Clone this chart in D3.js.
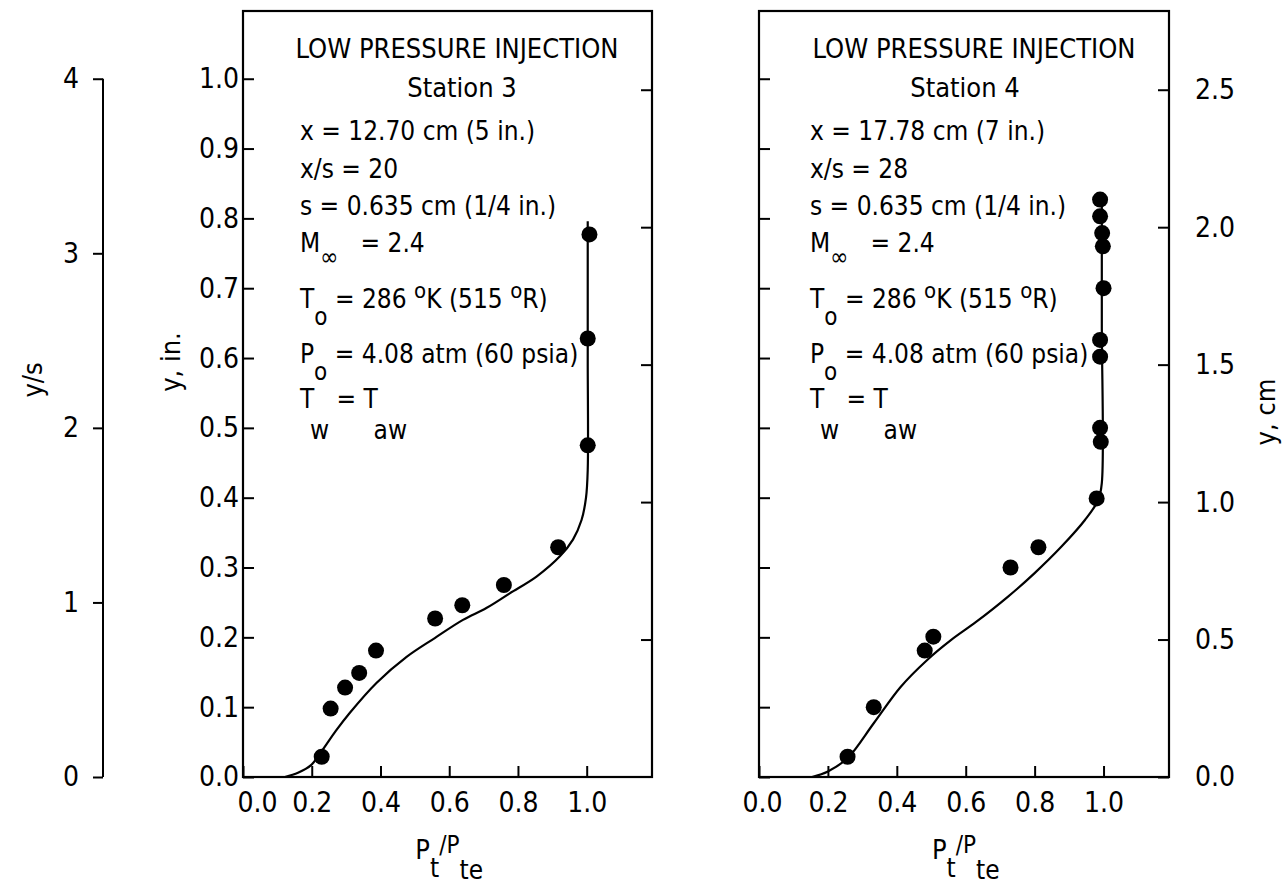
<!DOCTYPE html>
<html><head><meta charset="utf-8">
<script src="https://cdn.jsdelivr.net/npm/d3@7"></script>
<style>
body{margin:0;background:#fff;}
svg{display:block;background:#fff;}
text{font-family:"DejaVu Sans Condensed","Liberation Sans Narrow","DejaVu Sans",sans-serif;fill:#000;}
</style></head><body>
<svg id="c" width="1284" height="887"></svg>
<script>
// ---------- data ----------
const xLabelVals=[0,0.2,0.4,0.6,0.8,1.0];
const yInTickVals=[0,0.1,0.2,0.3,0.4,0.5,0.6,0.7,0.8,0.9,1.0];
const yCmTickVals=[0.5,1.0,1.5,2.0,2.5];
const yCmLabelVals=[0,0.5,1.0,1.5,2.0,2.5];
const ysTickVals=[0,1,2,3,4];

// Station 3 measured points (Pt/Pte, y in.)
const st3PtX=[0.229,0.255,0.297,0.338,0.387,0.559,0.638,0.759,0.917,1.003,1.003,1.008];
const st3PtY=[0.029,0.098,0.128,0.149,0.181,0.227,0.246,0.275,0.329,0.475,0.628,0.777];
// Station 3 curve
const st3LineX=[0.122,0.160,0.198,0.229,0.270,0.311,0.389,0.476,0.558,0.640,0.708,0.776,0.854,0.922,0.960,0.985,0.998,1.003,1.003,1.003];
const st3LineY=[0.000,0.006,0.017,0.037,0.066,0.092,0.135,0.172,0.199,0.225,0.242,0.263,0.287,0.316,0.340,0.368,0.400,0.440,0.600,0.796];

// Station 4 measured points
const st4PtX=[0.257,0.333,0.481,0.506,0.730,0.811,0.980,0.992,0.990,0.990,0.990,1.000,0.998,0.996,0.990,0.990];
const st4PtY=[0.029,0.100,0.181,0.201,0.300,0.329,0.399,0.480,0.500,0.602,0.626,0.700,0.760,0.779,0.803,0.827];
// Station 4 curve
const st4LineX=[0.154,0.200,0.257,0.333,0.411,0.489,0.557,0.630,0.722,0.800,0.878,0.946,0.985,0.995,0.995,0.995];
const st4LineY=[0.000,0.008,0.027,0.077,0.129,0.168,0.196,0.222,0.258,0.292,0.330,0.368,0.397,0.421,0.650,0.827];

// annotation texts
const st3Title=["LOW PRESSURE INJECTION","Station 3"];
const st4Title=["LOW PRESSURE INJECTION","Station 4"];
const st3Lines=[
 [["x = 12.70 cm (5 in.)","n"]],
 [["x/s = 20","n"]],
 [["s = 0.635 cm (1/4 in.)","n"]],
 [["M","n"],["\u221E","inf"],["\u00A0\u00A0 = 2.4","n"]],
 [["T","n"],["o","sub"],[" = 286 ","n"],["o","sup"],["K (515 ","n"],["o","sup"],["R)","n"]],
 [["P","n"],["o","sub"],[" = 4.08 atm (60 psia)","n"]],
 [["T","n"],["w","subw"],[" = T","n"],["aw","subw"]]
];
const st4Lines=[
 [["x = 17.78 cm (7 in.)","n"]],
 [["x/s = 28","n"]],
 [["s = 0.635 cm (1/4 in.)","n"]],
 [["M","n"],["\u221E","inf"],["\u00A0\u00A0 = 2.4","n"]],
 [["T","n"],["o","sub"],[" = 286 ","n"],["o","sup"],["K (515 ","n"],["o","sup"],["R)","n"]],
 [["P","n"],["o","sub"],[" = 4.08 atm (60 psia)","n"]],
 [["T","n"],["w","subw"],[" = T","n"],["aw","subw"]]
];
const xTitle=[["P","n"],["t","xsub"],["/P","xsup"],["te","xsub2"]];
const yInTitle="y, in.", yCmTitle="y, cm", ysTitle="y/s";

// ---------- layout ----------
const svg=d3.select("#c");
const TOP=11,BOTTOM=777;
const xMax=1.19, yInMax=1.097;
const y=d3.scaleLinear().domain([0,yInMax]).range([BOTTOM,TOP]);
const yCm=d3.scaleLinear().domain([0,yInMax*2.54]).range([BOTTOM,TOP]);
const yS=d3.scaleLinear().domain([0,yInMax*4]).range([BOTTOM,TOP]);
const roleDy={n:0,sub:17,sup:-10,inf:13,subw:31,xsub:18,xsup:-6,xsub2:20};
const roleSize={n:26,sub:24,sup:22,inf:24,subw:26,xsub:26,xsup:24,xsub2:26};
const lineBase=[140,178,215,252,308,363,408];
const titleBase=[58,97];

function richText(sel,segs,baseSize){
  let prev=0;
  segs.forEach(([t,r])=>{
    const d=roleDy[r];
    sel.append("tspan").attr("dy",d-prev).attr("font-size",r==="n"?baseSize:roleSize[r]).text(t);
    prev=d;
  });
}

const panels=[
 {left:243,right:652,ptX:st3PtX,ptY:st3PtY,lnX:st3LineX,lnY:st3LineY,title:st3Title,lines:st3Lines,inLabels:true,cmLabels:false,textX:57,titleCX:214,stationCX:219,zeroShift:14},
 {left:759,right:1169,ptX:st4PtX,ptY:st4PtY,lnX:st4LineX,lnY:st4LineY,title:st4Title,lines:st4Lines,inLabels:false,cmLabels:true,textX:51,titleCX:215,stationCX:206,zeroShift:3}
];

function styleAxis(s,fs){
  s.select(".domain").remove();
  s.selectAll(".tick line").attr("stroke","#000").attr("stroke-width",2);
  s.selectAll(".tick text").attr("font-size",fs).attr("fill","#000")
    .style("font-family","'DejaVu Sans Condensed','Liberation Sans Narrow','DejaVu Sans',sans-serif");
}

panels.forEach(p=>{
  const x=d3.scaleLinear().domain([0,xMax]).range([p.left,p.right]);
  const g=svg.append("g");
  g.append("rect").attr("x",p.left).attr("y",TOP).attr("width",p.right-p.left).attr("height",BOTTOM-TOP)
   .attr("fill","none").attr("stroke","#000").attr("stroke-width",2.2);
  // left inch axis
  g.append("g").attr("transform",`translate(${p.left},0)`)
   .call(d3.axisLeft(y).tickValues(yInTickVals).tickSize(-11).tickPadding(4).tickFormat(p.inLabels?d3.format(".1f"):()=>""))
   .call(s=>styleAxis(s,28));
  // right cm axis
  g.append("g").attr("transform",`translate(${p.right},0)`)
   .call(d3.axisRight(yCm).tickValues(p.cmLabels?yCmLabelVals:yCmTickVals).tickSize(-11).tickPadding(p.cmLabels?26:0).tickFormat(p.cmLabels?d3.format(".1f"):()=>""))
   .call(s=>styleAxis(s,28));
  // bottom axis
  g.append("g").attr("transform",`translate(0,${BOTTOM})`)
   .call(d3.axisBottom(x).tickValues(xLabelVals).tickSize(-11).tickPadding(15).tickFormat(d3.format(".1f")))
   .call(s=>{styleAxis(s,28); s.selectAll(".tick text").filter(d=>d===0).attr("dx",p.zeroShift);});
  // curve
  const idx=d3.range(p.lnX.length);
  g.append("path").datum(idx)
   .attr("d",d3.line().x(i=>x(p.lnX[i])).y(i=>y(p.lnY[i])).curve(d3.curveCatmullRom.alpha(0.5)))
   .attr("fill","none").attr("stroke","#000").attr("stroke-width",2.2);
  // points
  g.selectAll("circle.pt").data(d3.range(p.ptX.length)).join("circle")
   .attr("cx",i=>x(p.ptX[i])).attr("cy",i=>y(p.ptY[i])).attr("r",8).attr("fill","#000");
  // titles
  g.append("text").attr("x",p.left+p.titleCX).attr("y",titleBase[0]).attr("text-anchor","middle").attr("font-size",27).text(p.title[0]);
  g.append("text").attr("x",p.left+p.stationCX).attr("y",titleBase[1]).attr("text-anchor","middle").attr("font-size",27).text(p.title[1]);
  p.lines.forEach((segs,k)=>{
    const t=g.append("text").attr("x",p.left+p.textX).attr("y",lineBase[k]).attr("font-size",26);
    richText(t,segs,26);
  });
  // x title
  const xt=g.append("text").attr("x",x(0.6)).attr("y",859).attr("text-anchor","middle").attr("font-size",27);
  richText(xt,xTitle,27);
});

// y/s axis
svg.append("line").attr("x1",103).attr("x2",103).attr("y1",yS(4)).attr("y2",yS(0)).attr("stroke","#000").attr("stroke-width",2);
svg.append("g").attr("transform","translate(103,0)")
  .call(d3.axisLeft(yS).tickValues(ysTickVals).tickSize(10).tickPadding(14).tickFormat(d3.format("d")))
  .call(s=>styleAxis(s,28));

// axis titles
svg.append("text").attr("transform","translate(42,380) rotate(-90)").attr("text-anchor","middle").attr("font-size",27).text(ysTitle);
svg.append("text").attr("transform","translate(180,362) rotate(-90)").attr("text-anchor","middle").attr("font-size",27).text(yInTitle);
svg.append("text").attr("transform","translate(1275,412) rotate(-90)").attr("text-anchor","middle").attr("font-size",27).text(yCmTitle);
</script>
</body></html>
